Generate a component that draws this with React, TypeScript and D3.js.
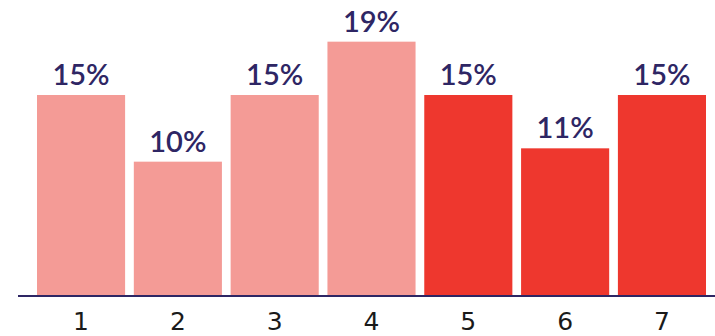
import React from "react";
import * as d3 from "d3";

const categories = ["1", "2", "3", "4", "5", "6", "7"];
const values = [15, 10, 15, 19, 15, 11, 15];
const valueLabels = ["15%", "10%", "15%", "19%", "15%", "11%", "15%"];
const highlighted = [false, false, false, false, true, true, true];

const W = 715;
const H = 336;
const baseY = 295;

export default function App() {
  const x = d3
    .scaleBand<string>()
    .domain(categories)
    .range([37, 706])
    .paddingInner(0.09)
    .paddingOuter(0);
  const y = d3.scaleLinear().domain([0, 15]).range([baseY, 95]);

  return (
    <svg
      width={W}
      height={H}
      style={{ position: "absolute", left: 0, top: 0, display: "block" }}
    >
      <rect width={W} height={H} fill="#ffffff" />
      {categories.map((c, i) => {
        const x0 = x(c)!;
        const bw = x.bandwidth();
        const top = y(values[i]);
        return (
          <g key={c}>
            <rect
              x={x0}
              y={top}
              width={bw}
              height={baseY - top}
              fill={highlighted[i] ? "#ee372e" : "#f49b96"}
            />
            <text
              x={x0 + bw / 2}
              y={top - 10}
              textAnchor="middle"
              fontFamily="Lato, sans-serif"
              fontWeight={600}
              fontSize={29}
              fill="#2e2664"
            >
              {valueLabels[i]}
            </text>
            <text
              x={x0 + bw / 2}
              y={330}
              textAnchor="middle"
              fontFamily="DejaVu Sans, sans-serif"
              fontSize={25}
              fill="#1a1a1a"
            >
              {c}
            </text>
          </g>
        );
      })}
      <line x1={18} x2={W} y1={296} y2={296} stroke="#2e2664" strokeWidth={2} />
    </svg>
  );
}
